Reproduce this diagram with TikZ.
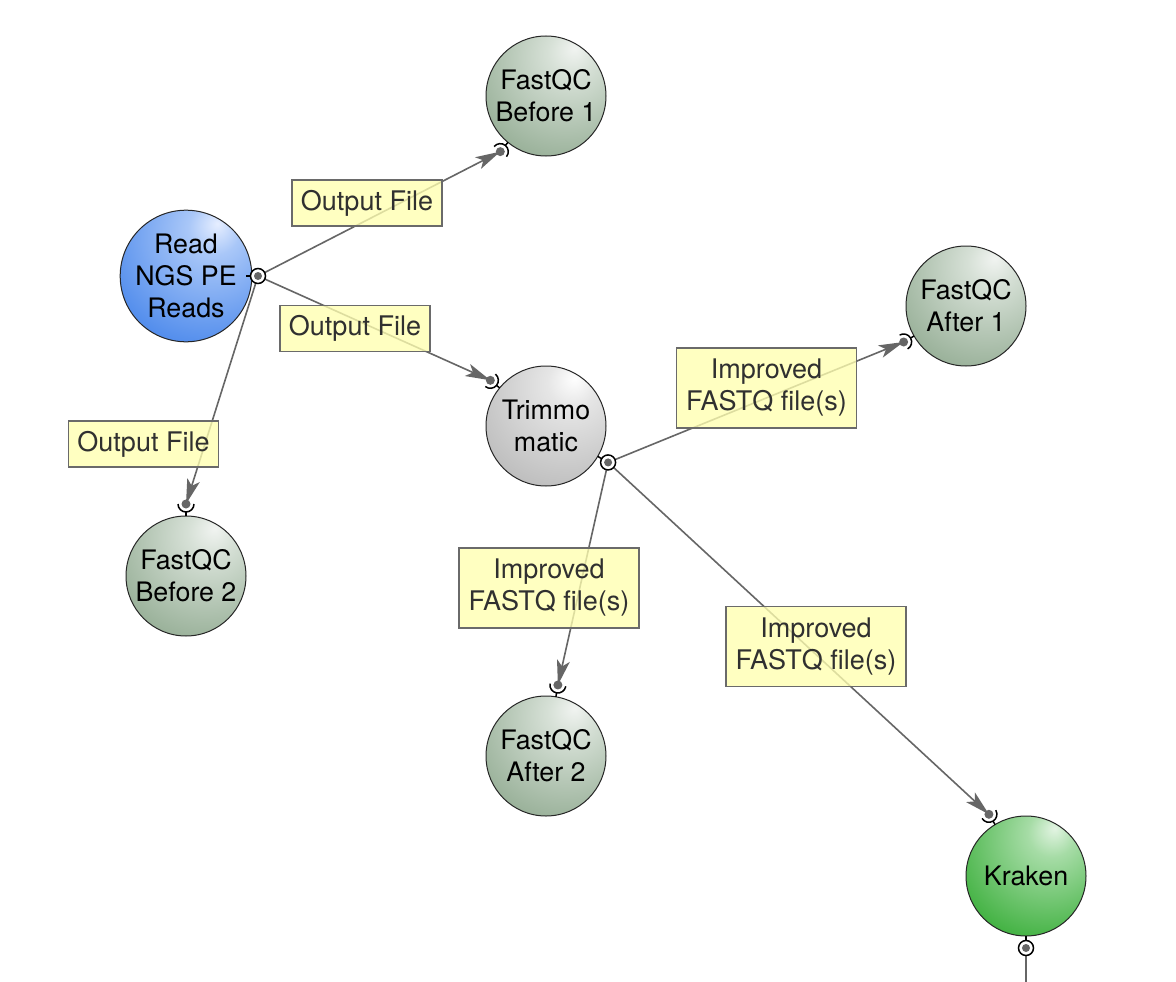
\documentclass[tikz,border=0pt]{standalone}
\usepackage{fontspec}
\setmainfont{TeX Gyre Heros}
\usetikzlibrary{arrows.meta,calc}

\definecolor{fqcA}{HTML}{F1F4F1}
\definecolor{fqcB}{HTML}{D6E0D6}
\definecolor{fqcC}{HTML}{98B098}
\definecolor{fqcD}{HTML}{62825F}
\definecolor{bluA}{HTML}{E6EEFF}
\definecolor{bluB}{HTML}{A9C7F8}
\definecolor{bluC}{HTML}{4F8BEC}
\definecolor{bluD}{HTML}{2467DC}
\definecolor{gryA}{HTML}{FFFFFF}
\definecolor{gryB}{HTML}{E6E6E6}
\definecolor{gryC}{HTML}{BDBDBD}
\definecolor{gryD}{HTML}{858585}
\definecolor{grnA}{HTML}{E3F4E3}
\definecolor{grnB}{HTML}{A6DCA6}
\definecolor{grnC}{HTML}{40B140}
\definecolor{grnD}{HTML}{1A8F1A}
\definecolor{edgegray}{HTML}{666666}
\definecolor{labelfill}{HTML}{FFFFB0}
\definecolor{labeltext}{HTML}{303030}
\definecolor{labeldraw}{HTML}{6A6A6A}

\pgfdeclareradialshading{fqcball}{\pgfqpoint{12bp}{20bp}}{color(0bp)=(fqcA); color(10bp)=(fqcB); color(40bp)=(fqcC); color(70bp)=(fqcD); color(100bp)=(fqcD)}
\pgfdeclareradialshading{bluball}{\pgfqpoint{12bp}{20bp}}{color(0bp)=(bluA); color(10bp)=(bluB); color(40bp)=(bluC); color(70bp)=(bluD); color(100bp)=(bluD)}
\pgfdeclareradialshading{gryball}{\pgfqpoint{12bp}{20bp}}{color(0bp)=(gryA); color(10bp)=(gryB); color(40bp)=(gryC); color(70bp)=(gryD); color(100bp)=(gryD)}
\pgfdeclareradialshading{grnball}{\pgfqpoint{12bp}{20bp}}{color(0bp)=(grnA); color(10bp)=(grnB); color(40bp)=(grnC); color(70bp)=(grnD); color(100bp)=(grnD)}

\newcommand\nodefont{\fontsize{26.8}{32}\selectfont}
\newcommand\labfont{\fontsize{27}{32}\selectfont}

\tikzset{
  proc/.style={circle, draw=black!85, line width=1pt, minimum size=120pt,
    inner sep=0pt, align=center, font=\nodefont, text=black},
  fqc/.style={proc, shading=fqcball},
  blu/.style={proc, shading=bluball},
  gry/.style={proc, shading=gryball},
  grn/.style={proc, shading=grnball},
  lab/.style={rectangle, draw=labeldraw, line width=1.5pt, fill=labelfill,
    fill opacity=0.78, text opacity=1, text=labeltext, align=center,
    font=\labfont, inner sep=0pt},
  lab1/.style={lab, minimum width=150pt, minimum height=46pt},
  lab2/.style={lab, minimum width=180pt, minimum height=80pt},
  edge/.style={draw=edgegray, line width=1.6pt,
    -{Stealth[length=25pt,width=13pt,inset=6pt]}},
  portline/.style={draw=black, line width=1.5pt},
}

% ports: #1 name, #2 node, #3 angle (pixel space, clockwise)
\newcommand\inport[3]{%
  \coordinate (#1) at ($(#2.center)+(#3:72)$);
}
\newcommand\drawinport[3]{%
  \draw[portline] ($(#2.center)+(#3:60)$) -- ($(#2.center)+(#3:64)$);
  \draw[portline] ($(#1)+(#3+90:8)$) arc[start angle=#3+90, end angle=#3+270, radius=8];
  \fill[edgegray] (#1) circle[radius=4.5];
}
\newcommand\outport[3]{%
  \coordinate (#1) at ($(#2.center)+(#3:72)$);
}
\newcommand\drawoutport[3]{%
  \draw[portline] ($(#2.center)+(#3:60)$) -- ($(#2.center)+(#3:64.5)$);
  \draw[portline, fill=white] (#1) circle[radius=7.5];
  \fill[edgegray] (#1) circle[radius=4];
}

\begin{document}
\begin{tikzpicture}[x=1pt,y=-1pt]
\useasboundingbox[fill=white] (0,0) rectangle (1176,982);

% nodes
\node[blu] (read) at (186,276) {Read\\NGS PE\\Reads};
\node[fqc] (fb1) at (546,96) {FastQC\\Before 1};
\node[fqc] (fb2) at (186,576) {FastQC\\Before 2};
\node[gry] (trim) at (546,426) {Trimmo\\matic};
\node[fqc] (fa1) at (966,306) {FastQC\\After 1};
\node[fqc] (fa2) at (546,756) {FastQC\\After 2};
\node[grn] (krak) at (1026,876) {Kraken};

% ports
\outport{readout}{read}{0}
\outport{trimout}{trim}{30.4}
\outport{krakout}{krak}{90}
\inport{fb1in}{fb1}{129.4}
\inport{trimin}{trim}{219.4}
\inport{fb2in}{fb2}{-90}
\inport{fa1in}{fa1}{150}
\inport{fa2in}{fa2}{-80.5}
\inport{krakin}{krak}{-121}
\coordinate (krakend) at (1026,982);

% edges
\draw[edge] (readout) -- (fb1in);
\draw[edge] (readout) -- (trimin);
\draw[edge] (readout) -- (fb2in);
\draw[edge] (trimout) -- (fa1in);
\draw[edge] (trimout) -- (fa2in);
\draw[edge] (trimout) -- (krakin);
\draw[draw=edgegray, line width=1.6pt] (krakout) -- (krakend);

% labels
\node[lab1] (l1) at (367,203) {Output File};
\node[lab1] (l2) at (355,328.5) {Output File};
\node[lab1] (l3) at (143.5,444) {Output File};
\node[lab2] (l4) at (766.5,388) {Improved\\FASTQ file(s)};
\node[lab2] (l5) at (549,588) {Improved\\FASTQ file(s)};
\node[lab2] (l6) at (816,646.5) {Improved\\FASTQ file(s)};

% port glyphs
\drawoutport{readout}{read}{0}
\drawoutport{trimout}{trim}{30.4}
\drawoutport{krakout}{krak}{90}
\drawinport{fb1in}{fb1}{129.4}
\drawinport{trimin}{trim}{219.4}
\drawinport{fb2in}{fb2}{-90}
\drawinport{fa1in}{fa1}{150}
\drawinport{fa2in}{fa2}{-80.5}
\drawinport{krakin}{krak}{-121}
\end{tikzpicture}
\end{document}
